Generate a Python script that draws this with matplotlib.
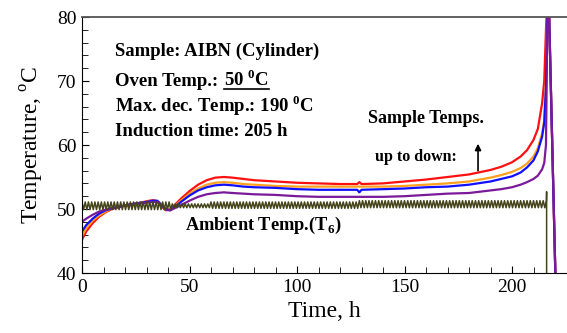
import numpy as np
import matplotlib
matplotlib.use("Agg")
import matplotlib.pyplot as plt

plt.rcParams["font.family"] = ["Liberation Serif", "DejaVu Serif"]
plt.rcParams["mathtext.fontset"] = "custom"
plt.rcParams["mathtext.rm"] = "Liberation Serif"
plt.rcParams["mathtext.bf"] = "Liberation Serif:bold"

# sample thermocouple readings (h, degC)
hours = [0, 2, 5, 8, 11, 14, 18, 22, 26, 30, 33, 35, 37, 39, 41, 43, 46, 50,
         54, 58, 62, 66, 70, 75, 80, 90, 100, 110, 120, 128, 129, 130, 140,
         150, 160, 170, 180, 190, 195, 200, 204, 207, 210, 212, 214, 215,
         215.8, 216.6, 217, 220.3]
temp_red = [45.2, 46.5, 47.8, 48.8, 49.5, 50.0, 50.4, 50.7, 50.9, 51.2, 51.4,
            51.2, 50.4, 49.8, 49.9, 50.6, 51.6, 52.8, 53.8, 54.5, 54.9, 55.0,
            54.9, 54.7, 54.5, 54.3, 54.1, 54.0, 53.9, 53.9, 54.2, 53.9, 54.0,
            54.3, 54.6, 55.0, 55.4, 56.1, 56.6, 57.3, 58.2, 59.2, 60.8, 62.5,
            66.5, 70.0, 78.0, 84.0, 84.0, 38.0]
temp_orange = [45.8, 47.0, 48.2, 49.0, 49.6, 50.1, 50.4, 50.7, 50.9, 51.1,
               51.3, 51.2, 50.5, 49.9, 49.8, 50.4, 51.3, 52.4, 53.2, 53.8,
               54.1, 54.2, 54.1, 53.9, 53.8, 53.6, 53.5, 53.5, 53.5, 53.5,
               53.5, 53.5, 53.5, 53.6, 53.8, 54.0, 54.3, 54.9, 55.3, 55.8,
               56.4, 57.1, 58.2, 59.5, 61.8, 64.0, 70.0, 84.0, 84.0, 38.0]
temp_blue = [46.5, 47.5, 48.5, 49.3, 49.8, 50.1, 50.4, 50.7, 50.9, 51.1, 51.3,
             51.3, 50.6, 49.9, 49.8, 50.3, 51.1, 52.1, 52.9, 53.4, 53.7, 53.8,
             53.7, 53.5, 53.4, 53.3, 53.1, 53.0, 53.0, 53.0, 52.6, 53.0, 53.1,
             53.2, 53.4, 53.5, 53.8, 54.3, 54.7, 55.1, 55.7, 56.5, 57.6, 59.0,
             61.3, 63.5, 69.0, 84.0, 84.0, 38.0]
temp_purple = [48.0, 48.5, 49.1, 49.6, 49.9, 50.1, 50.4, 50.6, 50.8, 51.0,
               51.1, 51.1, 50.6, 50.0, 49.8, 50.1, 50.6, 51.3, 51.9, 52.3,
               52.5, 52.6, 52.5, 52.4, 52.3, 52.2, 52.0, 51.9, 51.9, 51.9,
               51.9, 51.9, 51.9, 52.0, 52.2, 52.4, 52.5, 52.9, 53.1, 53.4,
               53.8, 54.2, 54.7, 55.2, 56.2, 57.2, 60.0, 84.0, 84.0, 38.0]

# oven air (T6): on/off cycling band, hi/lo per control period
ambient_seg_start = [0, 42, 60, 129]
ambient_seg_hi = [51.1, 50.8, 51.1, 51.3]
ambient_seg_lo = [49.9, 50.2, 50.1, 50.2]
ambient_step = 0.75  # h between a peak and the next trough
ambient_end = [216.1, 52.7, 38.0]  # time, last spike, drop after failure

sample_series = [
    (temp_red, "#ff1010"),
    (temp_orange, "#ffa01e"),
    (temp_blue, "#1010ff"),
    (temp_purple, "#7a1a9a"),
]

# build the cycling ambient trace from the segment envelopes
amb_t, amb_v = [], []
for i, h in enumerate(np.arange(0, ambient_end[0], ambient_step)):
    seg = np.searchsorted(ambient_seg_start, h, side="right") - 1
    amb_t.append(h)
    amb_v.append(ambient_seg_hi[seg] if i % 2 == 0 else ambient_seg_lo[seg])
amb_t += [ambient_end[0], ambient_end[0]]
amb_v += [ambient_end[1], ambient_end[2]]

fig = plt.figure(figsize=(5.67, 3.33), dpi=100)
ax = fig.add_axes([82 / 567, 60 / 333, 1 - 82 / 567, 256 / 333])

for values, color in sample_series:
    ax.plot(hours, values, color=color, lw=1.6)
ax.plot(amb_t, amb_v, color="#45451c", lw=1.1)

ax.set_xlim(0, 485 / 2.15)
ax.set_ylim(40, 80)
ax.set_xticks([0, 50, 100, 150, 200])
ax.set_yticks([40, 50, 60, 70, 80])
ax.set_xticks(np.arange(0, 226, 10), minor=True)
ax.set_yticks(np.arange(40, 81, 2), minor=True)
ax.tick_params(which="both", direction="in", labelsize=14, pad=4)
ax.tick_params(which="major", length=5)
ax.tick_params(which="minor", length=4)
ax.spines["right"].set_visible(False)
ax.spines["top"].set_color("#555555")
ax.spines["top"].set_linewidth(1.3)

ax.set_xlabel("Time, h", fontsize=17, labelpad=4)
ax.set_ylabel(r"Temperature, $^{\mathrm{o}}$C", fontsize=17, labelpad=8)

bold = dict(fontsize=13.5, fontweight="bold", transform=ax.transAxes,
            va="baseline", ha="left")
x0 = (115 - 82) / 485
y_oven = 1 - (86 - 17) / 256
ax.text(x0, 1 - (56 - 17) / 256, "Sample: AIBN (Cylinder)", **bold)
oven = ax.text(x0, y_oven, "Oven Temp.:", **bold)
ax.text(x0, 1 - (112 - 17) / 256, r"Max. dec. Temp.: 190 $^{\mathbf{0}}$C",
        **bold)
ax.text(x0, 1 - (136 - 17) / 256, "Induction time: 205 h", **bold)

ax.text(160, 64.2, "Sample Temps.", fontsize=13, fontweight="bold",
        ha="center", va="center")
ax.text(155.4, 58.1, "up to down:", fontsize=11.5, fontweight="bold",
        ha="center", va="center")
ax.annotate("", xy=(184.2, 60.2), xytext=(184.2, 56.0),
            arrowprops=dict(arrowstyle="-|>", color="black", lw=1.2,
                            mutation_scale=9, shrinkA=0, shrinkB=0))
ax.text(84.4, 47.4, r"Ambient Temp.(T$_{\mathbf{6}}$)", fontsize=13.2,
        fontweight="bold", ha="center", va="center")

# set point goes right after the label, underlined
fig.canvas.draw()
ob = oven.get_window_extent().transformed(ax.transAxes.inverted())
oven_val = ax.text(ob.x1 + 0.012, y_oven, r"50 $^{\mathbf{0}}$C", **bold)
fig.canvas.draw()
vb = oven_val.get_window_extent().transformed(fig.transFigure.inverted())
y_line = fig.transFigure.inverted().transform(
    ax.transAxes.transform((0, y_oven)))[1] - 0.008
fig.add_artist(plt.Line2D([vb.x0, vb.x1], [y_line, y_line],
                          color="black", lw=1.2, transform=fig.transFigure))

fig.savefig("out.png", dpi=100)
